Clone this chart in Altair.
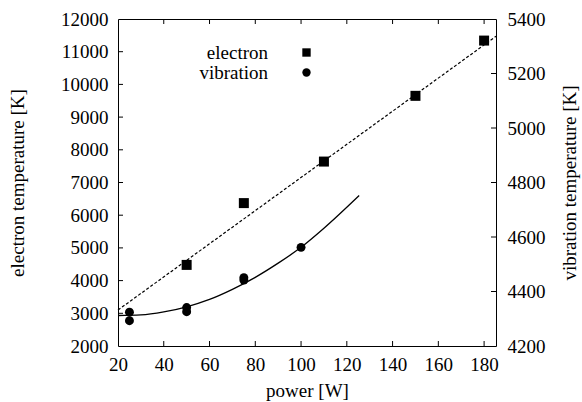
import altair as alt
import pandas as pd

# ---- data ----
power_e = [50, 75, 110, 150, 180]
electron_T = [4480, 6370, 7640, 9650, 11340]          # left axis [K]

power_v = [25, 25, 50, 50, 75, 75, 100]
vibration_T = [4324, 4293, 4341, 4326, 4451, 4442, 4562]  # right axis [K]

fit_e_power = [20, 185.2]
fit_e_T = [3100, 11470]

fit_v_power = [20, 30, 40, 50, 60, 70, 80, 90, 100, 110, 125.4]
fit_v_T = [4312, 4314, 4325, 4344, 4371, 4408, 4452, 4504, 4562, 4632, 4752]

x_ticks = [20, 40, 60, 80, 100, 120, 140, 160, 180]
left_ticks = [2000, 3000, 4000, 5000, 6000, 7000, 8000, 9000, 10000, 11000, 12000]
right_ticks = [4200, 4400, 4600, 4800, 5000, 5200, 5400]

W, H = 378, 327
FONT = "Liberation Serif"
FS = 19

df_e = pd.DataFrame({"p": power_e, "T": electron_T, "series": "electron"})
df_v = pd.DataFrame({"p": power_v, "T": vibration_T, "series": "vibration"})
df_fe = pd.DataFrame({"p": fit_e_power, "T": fit_e_T})
df_fv = pd.DataFrame({"p": fit_v_power, "T": fit_v_T})
df_xt = pd.DataFrame({"p": x_ticks[1:]})
df_lt = pd.DataFrame({"v": left_ticks[1:-1]})
df_rt = pd.DataFrame({"v": right_ticks[1:-1]})

xs = alt.Scale(domain=[20, 185.2], nice=False, zero=False)
yl = alt.Scale(domain=[2000, 12000], nice=False, zero=False)
yr = alt.Scale(domain=[4200, 5400], nice=False, zero=False)

shape_scale = alt.Scale(domain=["electron", "vibration"], range=["square", "circle"])

common = dict(ticks=False, domain=False, grid=False, format="d", labelFlush=False,
              labelOverlap=False,
              labelFont=FONT, titleFont=FONT, labelFontSize=FS, titleFontSize=FS,
              labelColor="black", titleColor="black", titleFontWeight="normal")

x_axis = alt.Axis(values=x_ticks, title="power [W]", labelPadding=9, titlePadding=7, **common)
yl_axis = alt.Axis(values=left_ticks, orient="left", title="electron temperature [K]",
                   labelPadding=10, titlePadding=33, **common)
yr_axis = alt.Axis(values=right_ticks, orient="right", title="vibration temperature [K]",
                   labelPadding=11, titlePadding=34, titleAngle=270, **common)

legend = alt.Legend(title=None, orient="none", legendX=179, legendY=24, padding=0,
                    labelAlign="right", labelOffset={"expr": "-48"}, symbolSize=70,
                    symbolFillColor="black", symbolStrokeColor="black", rowPadding=0,
                    labelFontSize=FS, labelFont=FONT, labelColor="black")

X = alt.X("p:Q", scale=xs, axis=x_axis)

squares = alt.Chart(df_e).mark_point(filled=True, color="black", size=100, opacity=1).encode(
    x=X,
    y=alt.Y("T:Q", scale=yl, axis=yl_axis),
    shape=alt.Shape("series:N", scale=shape_scale, legend=legend),
)
fit_e = alt.Chart(df_fe).mark_line(color="black", strokeDash=[3, 2], strokeWidth=1.2).encode(
    x=X,
    y=alt.Y("T:Q", scale=yl, axis=None),
)
bottom_ticks = alt.Chart(df_xt).mark_rule(color="black").encode(
    x=X, y=alt.value(H), y2=alt.value(H - 5))
top_ticks = alt.Chart(df_xt).mark_rule(color="black").encode(
    x=X, y=alt.value(0), y2=alt.value(5))
left_tk = alt.Chart(df_lt).mark_rule(color="black").encode(
    y=alt.Y("v:Q", scale=yl, axis=None), x=alt.value(0), x2=alt.value(5))

circles = alt.Chart(df_v).mark_point(filled=True, color="black", size=80, opacity=1).encode(
    x=X,
    y=alt.Y("T:Q", scale=yr, axis=yr_axis),
    shape=alt.Shape("series:N", scale=shape_scale, legend=legend),
)
fit_v = alt.Chart(df_fv).mark_line(color="black", strokeWidth=1.3, interpolate="monotone").encode(
    x=X,
    y=alt.Y("T:Q", scale=yr, axis=None),
)
right_tk = alt.Chart(df_rt).mark_rule(color="black").encode(
    y=alt.Y("v:Q", scale=yr, axis=None), x=alt.value(W), x2=alt.value(W - 5))

chart = alt.layer(squares, circles, fit_e, fit_v, bottom_ticks, top_ticks, left_tk, right_tk
).resolve_scale(y="independent").properties(
    width=W, height=H,
    autosize=alt.AutoSizeParams(type="none"),
    padding={"left": 118, "top": 19, "right": 86, "bottom": 56},
    background="white",
).configure(font=FONT).configure_view(stroke="black", strokeWidth=1)

chart.save("out.html", embed_options={"renderer": "svg", "actions": False})
